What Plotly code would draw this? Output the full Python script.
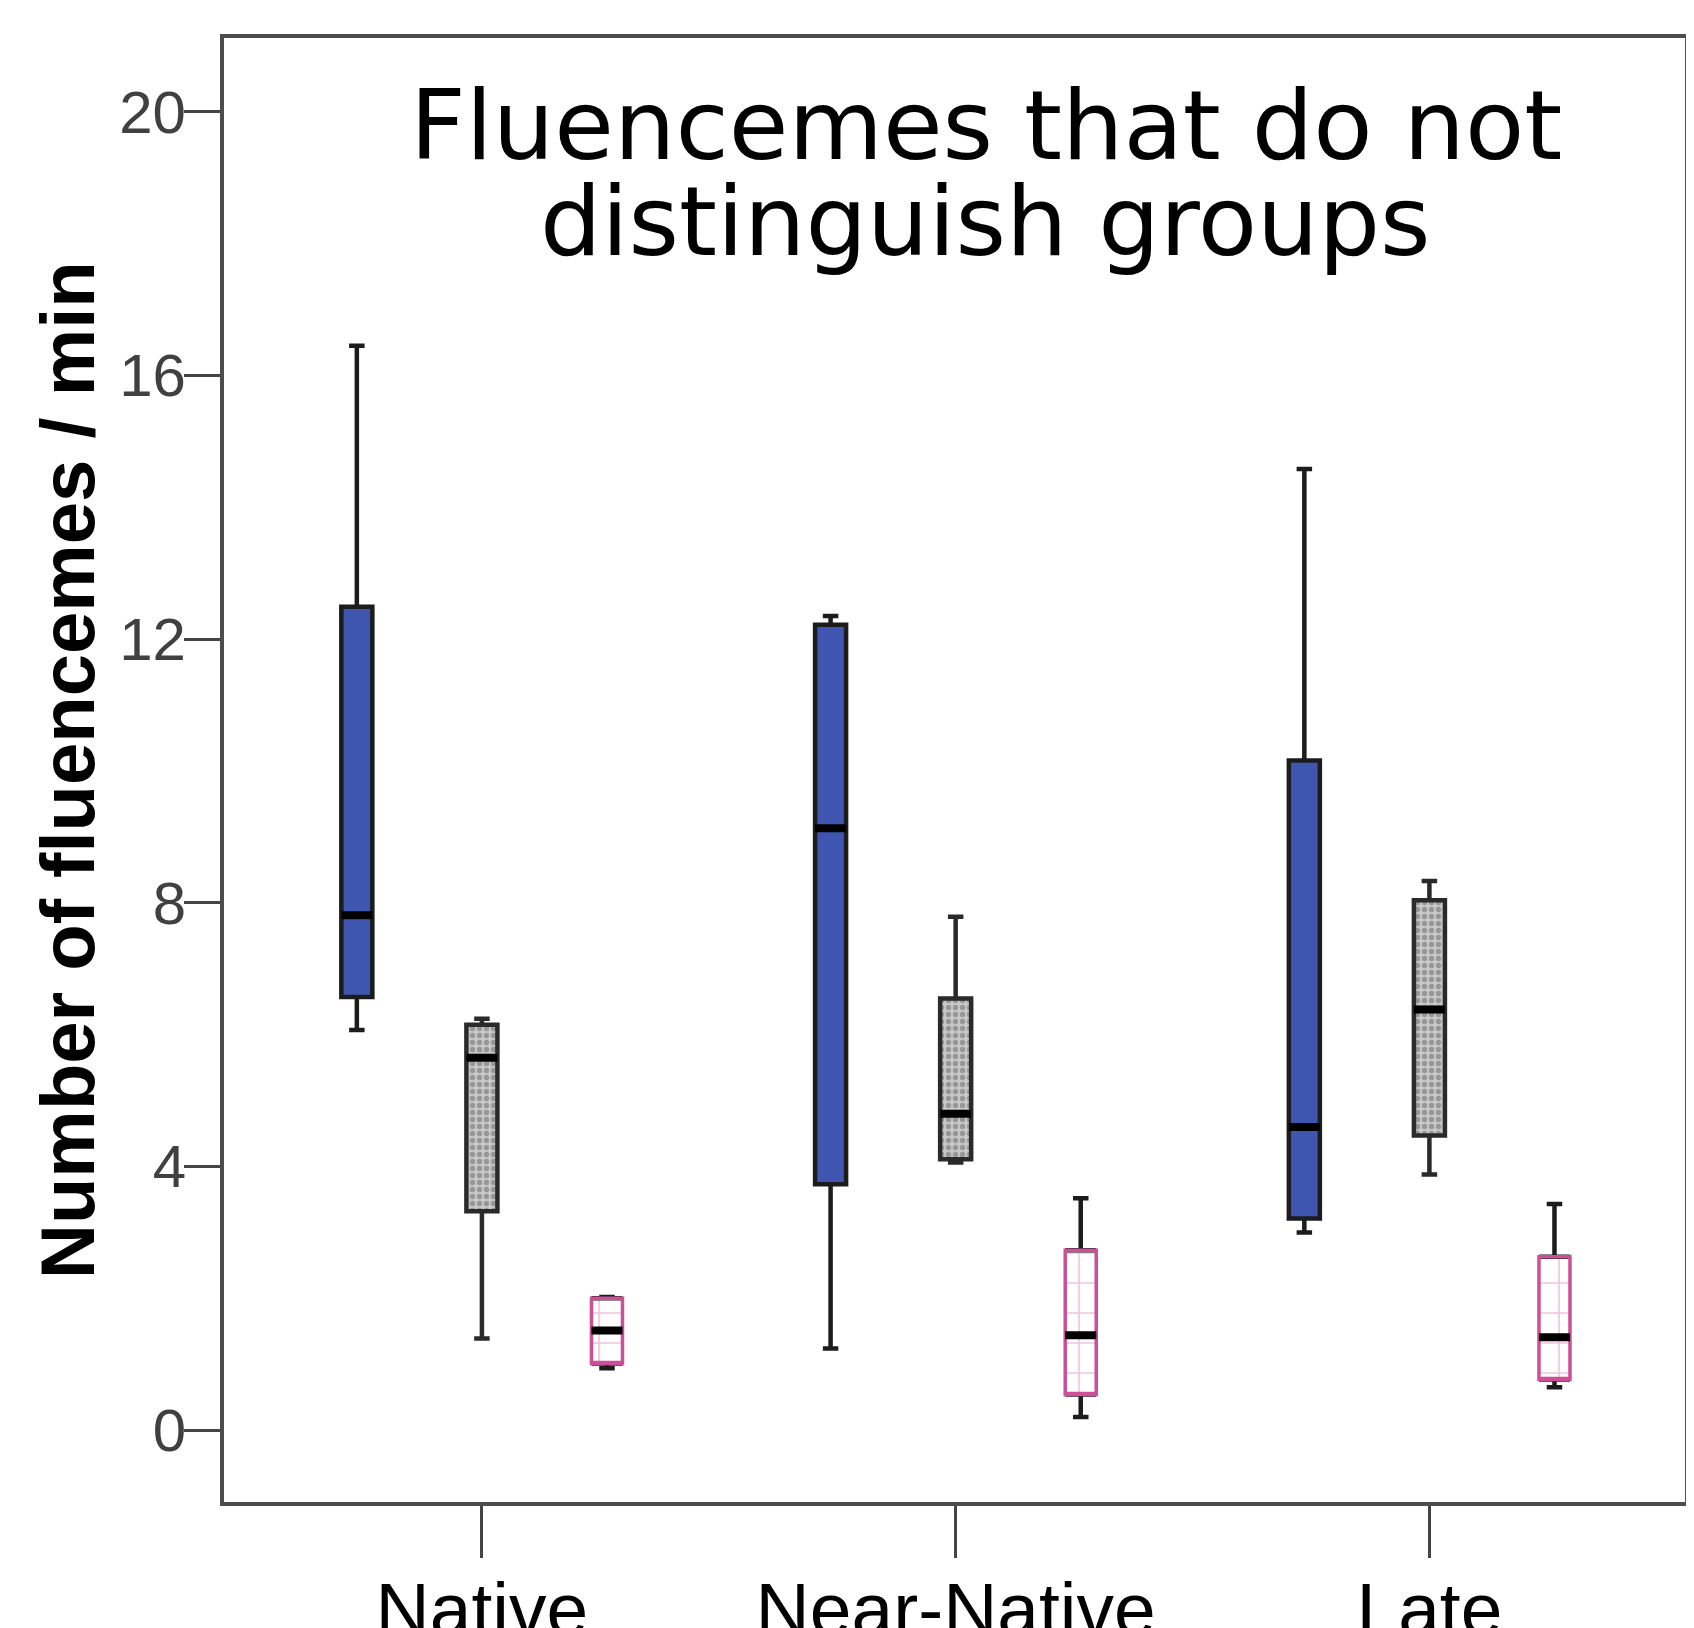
import plotly.graph_objects as go

categories = ["Native", "Near-Native", "Late"]

# Blue series (five-number summaries)
blue_low = [6.07, 1.24, 3.0]
blue_q1 = [6.57, 3.73, 3.21]
blue_med = [7.81, 9.13, 4.60]
blue_q3 = [12.49, 12.22, 10.16]
blue_high = [16.45, 12.35, 14.58]

# Gray (dotted) series
gray_low = [1.39, 4.06, 3.88]
gray_q1 = [3.32, 4.11, 4.47]
gray_med = [5.65, 4.80, 6.38]
gray_q3 = [6.15, 6.55, 8.04]
gray_high = [6.24, 7.79, 8.33]

# Pink (crossed) series
pink_low = [0.94, 0.20, 0.65]
pink_q1 = [1.01, 0.54, 0.77]
pink_med = [1.51, 1.44, 1.41]
pink_q3 = [2.00, 2.73, 2.63]
pink_high = [2.02, 3.52, 3.43]

y_ticks = [0, 4, 8, 12, 16, 20]

BLUE = "#3f56b0"
GRAY = "#c8c8c8"
PINK = "#cc4f98"
DARK = "#1c1c1c"

fig = go.Figure()

# ---- box bodies as bars (pattern fills) ----
def body(q1, q3, color, group, pattern=None):
    fig.add_trace(go.Bar(
        x=categories, base=q1, y=[b - a for a, b in zip(q1, q3)],
        offsetgroup=group, marker=dict(color=color, line=dict(width=0), pattern=pattern),
        showlegend=False, hoverinfo="skip"))

body(blue_q1, blue_q3, BLUE, "A")
body(gray_q1, gray_q3, GRAY, "B",
     dict(shape=".", fgcolor="#666666", bgcolor=GRAY, size=7, solidity=0.45))
body(pink_q1, pink_q3, "white", "C",
     dict(shape="+", fgcolor="#dc86b8", bgcolor="white", size=30, solidity=0.1))

def box(low, q1, med, q3, high, color, width, group):
    fig.add_trace(go.Box(
        x=categories, lowerfence=low, q1=q1, median=med, q3=q3, upperfence=high,
        offsetgroup=group, boxpoints=False, whiskerwidth=0.5,
        line=dict(color=color, width=width), fillcolor="rgba(0,0,0,0)",
        showlegend=False, hoverinfo="skip"))

# blue and gray: outline + whiskers
box(blue_low, blue_q1, blue_med, blue_q3, blue_high, DARK, 4.5, "A")
box(gray_low, gray_q1, gray_med, gray_q3, gray_high, "#2a2a2a", 4.5, "B")
# pink: black whiskers (collapsed boxes), then pink outline on top
box(pink_q3, pink_q3, pink_q3, pink_q3, pink_high, DARK, 4.5, "C")
box(pink_low, pink_q1, pink_q1, pink_q1, pink_q1, DARK, 4.5, "C")
box(pink_q1, pink_q1, pink_q1, pink_q3, pink_q3, PINK, 3.5, "C")
# medians (thick black)
box(blue_med, blue_med, blue_med, blue_med, blue_med, "black", 8, "A")
box(gray_med, gray_med, gray_med, gray_med, gray_med, "black", 8, "B")
box(pink_med, pink_med, pink_med, pink_med, pink_med, "black", 8, "C")

# page body adds a small offset; the figure is sized to fill the rest
W, H = 1692, 1620
ML, MR, MT, MB = 216, 15, 30, 126
PW, PH = W - ML - MR, H - MT - MB

def px(xp):  # page pixel -> paper x
    return (xp - 8 - ML) / PW

def py(yp):  # page pixel -> paper y
    return (H - MB - (yp - 8)) / PH

fig.update_layout(
    width=W, height=H,
    margin=dict(l=ML, r=MR, t=MT, b=MB, autoexpand=False),
    paper_bgcolor="white", plot_bgcolor="white",
    barmode="group", bargap=0.208, bargroupgap=0.752,
    boxmode="group", boxgap=0.208, boxgroupgap=0.752,
    showlegend=False,
    xaxis=dict(type="category", range=[-0.5444, 2.5395], showline=True, mirror=True,
               automargin=False,
               linecolor="#4d4d4d", linewidth=4, ticks="outside", ticklen=52,
               tickwidth=3, tickcolor="#444444", showgrid=False, ticklabelstandoff=-13,
               tickfont=dict(family="Liberation Sans", size=75, color="black")),
    yaxis=dict(range=[-1.09, 21.12], showline=True, mirror=True, linecolor="#4d4d4d",
               automargin=False,
               linewidth=4, ticks="outside", ticklen=36, tickwidth=3,
               tickcolor="#444444", showgrid=False, zeroline=False, ticklabelstandoff=-14,
               tickvals=y_ticks, ticktext=[str(v) for v in y_ticks],
               tickfont=dict(family="Liberation Sans", size=60, color="#404040")),
    annotations=[
        dict(text="Fluencemes that do not", xref="paper", yref="paper",
             x=px(986), y=py(126), xanchor="center", yanchor="middle",
             showarrow=False, font=dict(family="DejaVu Sans", size=97, color="black")),
        dict(text="distinguish groups", xref="paper", yref="paper",
             x=px(986), y=py(221), xanchor="center", yanchor="middle",
             showarrow=False, font=dict(family="DejaVu Sans", size=97, color="black")),
        dict(text="Number of fluencemes / min", xref="paper", yref="paper",
             x=px(67), y=0.5, xanchor="center", yanchor="middle",
             textangle=-90, showarrow=False,
             font=dict(family="Liberation Sans", size=76, color="black", weight="bold")),
    ],
)

fig.write_html("out.html")
